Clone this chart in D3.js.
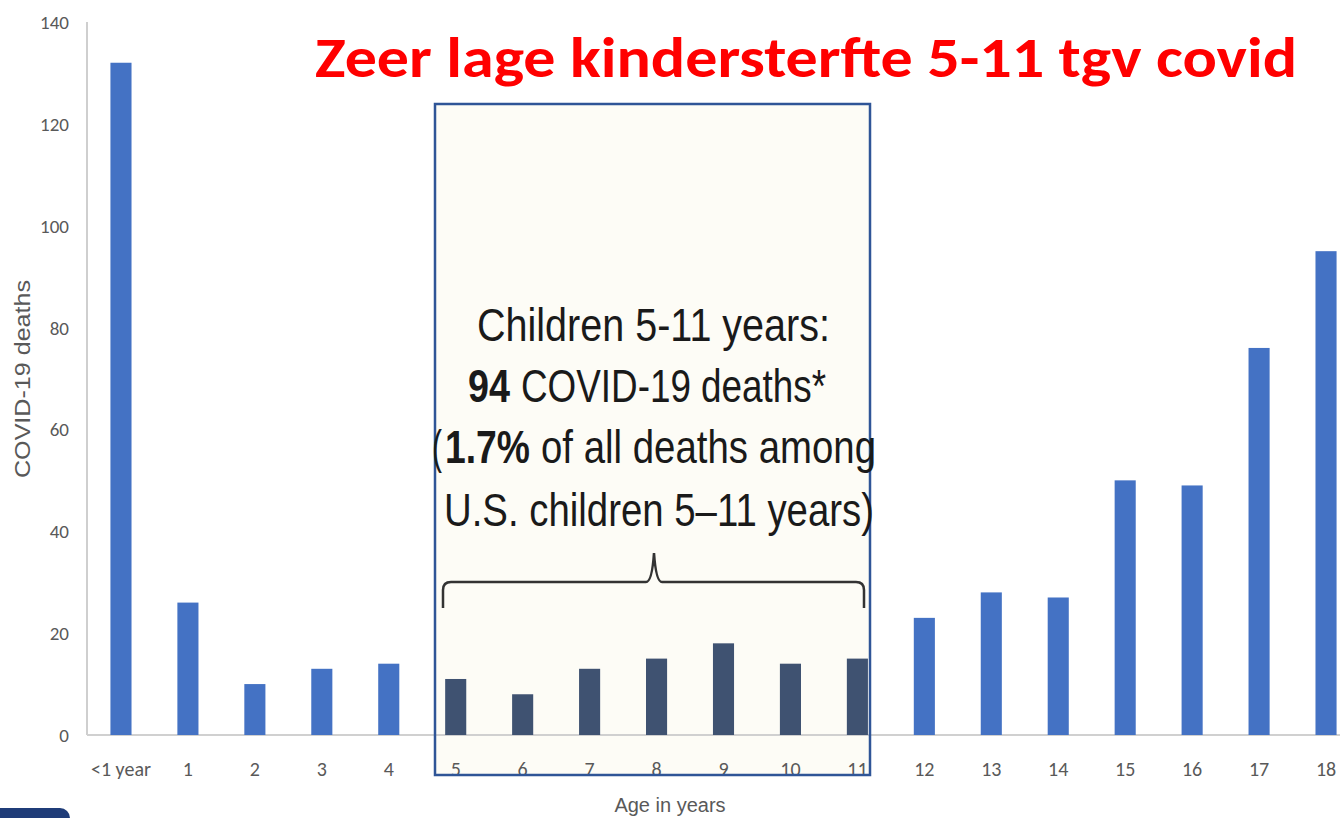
<!DOCTYPE html>
<html>
<head>
<meta charset="utf-8">
<script src="https://cdn.jsdelivr.net/npm/d3@7"></script>
<style>
  body { margin: 0; background: #fff; }
  svg { display: block; }
</style>
</head>
<body>
<script>
// ages and death counts
const ages = ['<1 year', '1', '2', '3', '4', '5', '6', '7', '8', '9', '10', '11', '12', '13', '14', '15', '16', '17', '18'];
const deaths = [132, 26, 10, 13, 14, 11, 8, 13, 15, 18, 14, 15, 23, 28, 27, 50, 49, 76, 95];
const highlightAges = ['5', '6', '7', '8', '9', '10', '11'];
const yTicks = [0, 20, 40, 60, 80, 100, 120, 140];

const width = 1340, height = 818;
const tickFont = 'Carlito, Lato, "Open Sans", sans-serif';

let svg = d3.select('body').append('svg')
    .attr('width', width)
    .attr('height', height);

let x = d3.scaleBand()
    .domain(ages)
    .range([87, 1360])
    .paddingInner(0.685)
    .paddingOuter(0.35);

let y = d3.scaleLinear()
    .domain([0, 140])
    .range([735, 22]);

// highlight box (fill first, border on top later)
let boxX0 = 435, boxX1 = 870, boxY0 = 104, boxY1 = 775;
svg.append('rect')
    .attr('x', boxX0).attr('y', boxY0)
    .attr('width', boxX1 - boxX0).attr('height', boxY1 - boxY0)
    .attr('fill', '#fdfcf6');

// y axis line
svg.append('line')
    .attr('x1', 87).attr('x2', 87)
    .attr('y1', y(140)).attr('y2', y(0))
    .attr('stroke', '#bfbfbf').attr('stroke-width', 1.5);

// baseline
svg.append('line')
    .attr('x1', 87).attr('x2', width)
    .attr('y1', y(0)).attr('y2', y(0))
    .attr('stroke', '#d0d0d0').attr('stroke-width', 2);

// y tick labels
svg.append('g').selectAll('text')
    .data(yTicks)
    .enter().append('text')
    .attr('x', 69)
    .attr('y', d => y(d) + 7)
    .attr('text-anchor', 'end')
    .attr('font-family', tickFont)
    .attr('font-size', 19)
    .attr('fill', '#595959')
    .text(d => d);

// bars
svg.append('g').selectAll('rect')
    .data(ages)
    .enter().append('rect')
    .attr('x', d => x(d))
    .attr('width', x.bandwidth())
    .attr('y', (d, i) => y(deaths[i]))
    .attr('height', (d, i) => y(0) - y(deaths[i]))
    .attr('fill', d => highlightAges.includes(d) ? '#3f5271' : '#4472c4');

// x tick labels
svg.append('g').selectAll('text')
    .data(ages)
    .enter().append('text')
    .attr('x', d => x(d) + x.bandwidth() / 2)
    .attr('y', 776)
    .attr('text-anchor', 'middle')
    .attr('font-family', tickFont)
    .attr('font-size', 20)
    .attr('fill', '#595959')
    .text(d => d);

// box border
svg.append('rect')
    .attr('x', boxX0).attr('y', boxY0)
    .attr('width', boxX1 - boxX0).attr('height', boxY1 - boxY0)
    .attr('fill', 'none')
    .attr('stroke', '#2f5597')
    .attr('stroke-width', 2.5);

// axis titles
svg.append('text')
    .attr('x', 670).attr('y', 812)
    .attr('text-anchor', 'middle')
    .attr('font-family', '"Liberation Sans", Arial, sans-serif')
    .attr('font-size', 20)
    .attr('fill', '#595959')
    .text('Age in years');

svg.append('text')
    .attr('transform', 'translate(30,379) rotate(-90)')
    .attr('text-anchor', 'middle')
    .attr('font-family', '"Liberation Sans", Arial, sans-serif')
    .attr('font-size', 22)
    .attr('fill', '#595959')
    .attr('textLength', 198)
    .attr('lengthAdjust', 'spacingAndGlyphs')
    .text('COVID-19 deaths');

// annotation text: each run is its own text, squeezed to look like a narrow face
let annPieces = [
    { x: 477, y: 341, w: 353, bold: false, t: 'Children 5-11 years:' },
    { x: 468, y: 402, w: 42, bold: true, t: '94' },
    { x: 521, y: 402, w: 305, bold: false, t: 'COVID-19 deaths*' },
    { x: 432, y: 463, w: 10, bold: false, t: '(' },
    { x: 445, y: 463, w: 85, bold: true, t: '1.7%' },
    { x: 541, y: 463, w: 335, bold: false, t: 'of all deaths among' },
    { x: 444, y: 526, w: 430, bold: false, t: 'U.S. children 5\u201311 years)' }
];
svg.append('g').selectAll('text')
    .data(annPieces)
    .enter().append('text')
    .attr('x', d => d.x)
    .attr('y', d => d.y)
    .attr('textLength', d => d.w)
    .attr('lengthAdjust', 'spacingAndGlyphs')
    .attr('font-family', '"Liberation Sans", Arial, sans-serif')
    .attr('font-size', 46)
    .attr('font-weight', d => d.bold ? 'bold' : 'normal')
    .attr('fill', '#1a1a1a')
    .text(d => d.t);

// curly brace
let bx0 = 443, bx1 = 864, bxm = 654, byTop = 582, byEnd = 608, byTip = 553;
let brace = d3.path();
brace.moveTo(bx0, byEnd);
brace.lineTo(bx0, byTop + 8);
brace.quadraticCurveTo(bx0, byTop, bx0 + 8, byTop);
brace.lineTo(bxm - 8, byTop);
brace.quadraticCurveTo(bxm - 2, byTop, bxm, byTip);
brace.quadraticCurveTo(bxm + 2, byTop, bxm + 8, byTop);
brace.lineTo(bx1 - 8, byTop);
brace.quadraticCurveTo(bx1, byTop, bx1, byTop + 8);
brace.lineTo(bx1, byEnd);
svg.append('path')
    .attr('d', brace.toString())
    .attr('fill', 'none')
    .attr('stroke', '#333')
    .attr('stroke-width', 2.5);

// title
svg.append('text')
    .attr('x', 315).attr('y', 77)
    .attr('font-family', 'Carlito, "Open Sans", "Liberation Sans", sans-serif')
    .attr('font-weight', 'bold')
    .attr('font-size', 56)
    .attr('fill', '#ff0000')
    .attr('textLength', 982)
    .attr('lengthAdjust', 'spacingAndGlyphs')
    .text('Zeer lage kindersterfte 5-11 tgv covid');

// slide footer fragment
svg.append('rect')
    .attr('x', -20).attr('y', 808)
    .attr('width', 90).attr('height', 30)
    .attr('rx', 10)
    .attr('fill', '#1f3c78');
</script>
</body>
</html>
